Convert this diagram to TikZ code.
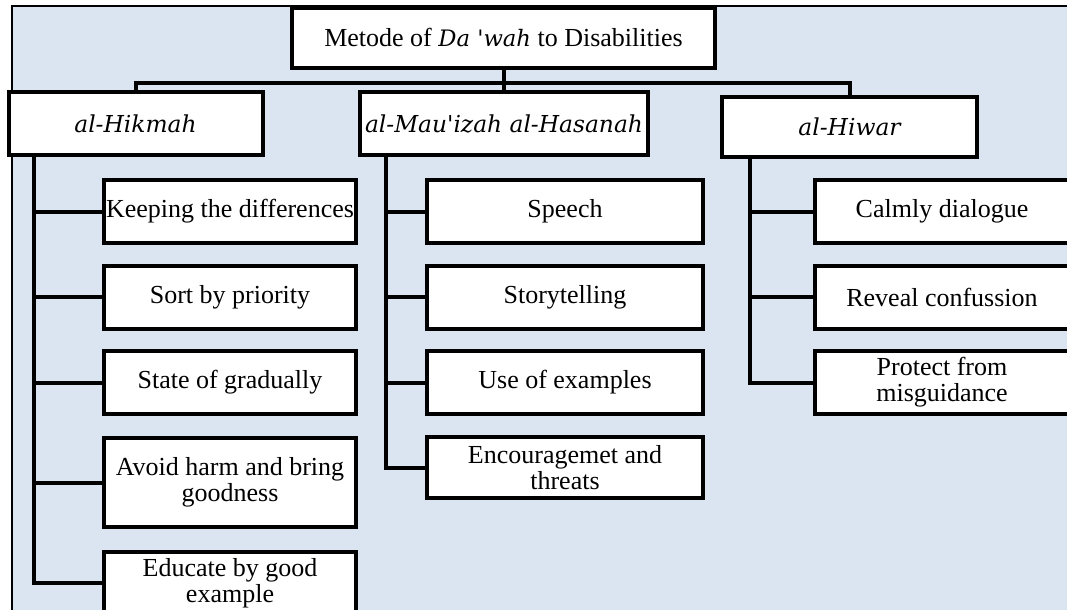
\documentclass[tikz,border=0pt]{standalone}
\usepackage{fontspec}
\setmainfont{Liberation Serif}
\newfontfamily\slabit{DejaVu Serif}
\usetikzlibrary{positioning,calc}
\definecolor{mybg}{RGB}{219,229,241}

\begin{document}
\begin{tikzpicture}[x=0.75pt,y=-0.75pt,
  box/.style={draw,line width=3pt,fill=white,font=\fontsize{19.5}{19.5}\selectfont,
              align=center,inner sep=0pt,minimum height=47.25pt},
  branch/.style={box,font=\fontsize{17.5}{19}\selectfont\slabit\itshape},
  conn/.style={line width=3pt,line cap=rect}]
  \clip (0,0) rectangle (1067,610);
  \fill[mybg] (12,6) rectangle (1067,610);
  \draw[line width=1.5pt] (1067,6) -- (12,6) -- (12,610);
  % top level
  \node[box,minimum width=317.25pt,minimum height=45pt](root) at (503.5,38)
    {Metode of {\fontsize{17}{19}\slabit\itshape Da 'wah} to Disabilities};
  \node[branch,minimum width=190.5pt](hik) at (135.5,123.5) {al-Hikmah};
  \node[branch,minimum width=216pt](mau) at (504,123.5) {al-Mau\textquotesingle izah al-Hasanah};
  \node[branch,minimum width=191.25pt,minimum height=45pt](hiw) at (849.5,127) {al-Hiwar};
  \coordinate (bus) at ($(root.south)+(0,13)$);
  \draw[conn](root.south) -- (root.south |- mau.north);
  \draw[conn](hik.north) |- (bus) -| (hiw.north);
  % al-Hikmah
  \node[box,minimum width=189pt](h1) at (230,211.5) {Keeping the differences};
  \node[box,minimum width=189pt](h2) at (230,297) {Sort by priority};
  \node[box,minimum width=189pt](h3) at (230,382.5) {State of gradually};
  \node[box,minimum width=189pt,minimum height=66.75pt](h4) at (230,482.5)
    {Avoid harm and bring\\goodness};
  \node[box,minimum width=189pt,minimum height=46.5pt](h5) at (230,583)
    {Educate by good\\example};
  \foreach \n in {h1,h2,h3,h4,h5}
    \draw[conn]($(hik.south west)+(27,0)$) |- (\n.west);
  % al-Mau'izah al-Hasanah
  \node[box,minimum width=207pt](m1) at (565,211.5) {Speech};
  \node[box,minimum width=207pt](m2) at (565,297) {Storytelling};
  \node[box,minimum width=207pt](m3) at (565,382.5) {Use of examples};
  \node[box,minimum width=207pt,minimum height=45.75pt](m4) at (565,467.5)
    {Encouragemet and\\threats};
  \foreach \n in {m1,m2,m3,m4}
    \draw[conn]($(mau.south west)+(28,0)$) |- (\n.west);
  % al-Hiwar
  \node[box,minimum width=190.5pt](w1) at (942,211.5) {Calmly dialogue};
  \node[box,minimum width=190.5pt](w2) at (942,297) {Reveal confussion};
  \node[box,minimum width=190.5pt](w3) at (942,382.5) {Protect from\\misguidance};
  \foreach \n in {w1,w2,w3}
    \draw[conn]($(hiw.south west)+(30,0)$) |- (\n.west);
\end{tikzpicture}
\end{document}
